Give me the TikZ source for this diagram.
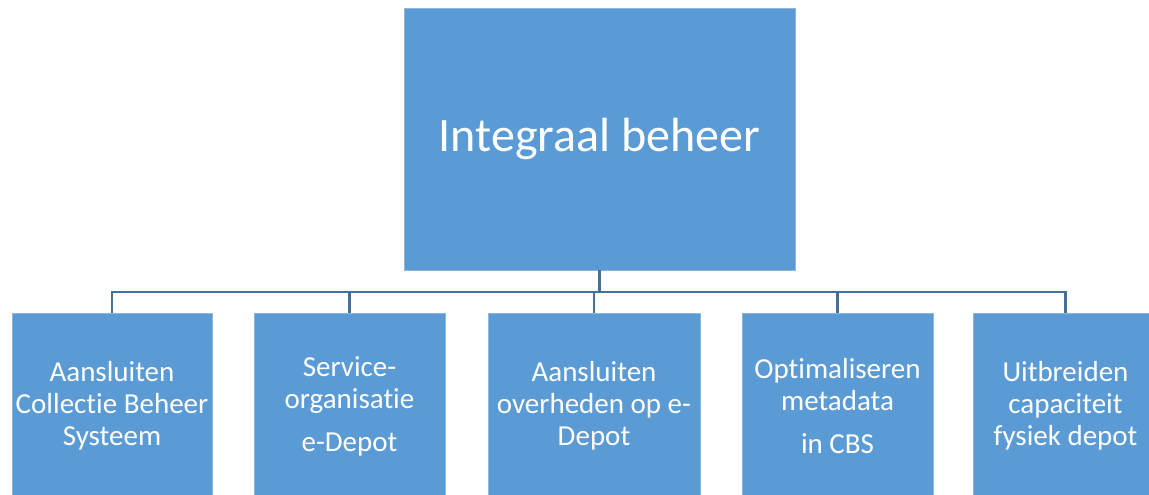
\documentclass[tikz,border=0pt]{standalone}
\usepackage{fontspec}
\setmainfont{Carlito}[Ligatures=NoCommon]
\usepackage{tikz}
\usetikzlibrary{positioning}

\definecolor{boxblue}{HTML}{5B9BD5}
\definecolor{boxedge}{HTML}{8DB6E0}
\definecolor{lineblue}{HTML}{41719C}

\begin{document}
\begin{tikzpicture}[x=1pt,y=-1pt,
    box/.style={rectangle,draw=boxedge,line width=0.8pt,fill=boxblue,text=white,
        align=center,inner sep=0pt,font=\fontsize{29}{32}\selectfont},
    conn/.style={draw=lineblue,line width=2.2pt}]
    \useasboundingbox (0,0) rectangle (1149,495);

    % Top
    \node[box,minimum width=391pt,minimum height=262pt,font=\fontsize{48}{58}\selectfont]
        (top) at (599.5,139) {Integraal beheer};

    % Projects
    \node[box,minimum width=200pt,minimum height=186pt] (cbs) at (112,406)
        {Aansluiten\\Collectie Beheer\\Systeem};
    \node[box,minimum width=191pt,minimum height=186pt] (service) at (349.5,406)
        {Service-\\organisatie\\[11pt]e-Depot};
    \node[box,minimum width=212pt,minimum height=186pt] (overheden) at (594,406)
        {Aansluiten\\overheden op e-\\Depot};
    \node[box,minimum width=191pt,minimum height=186pt] (metadata) at (837.5,406)
        {Optimaliseren\\metadata\\[11pt]in CBS};
    \node[box,minimum width=185pt,minimum height=186pt] (fysiek) at (1065.5,406)
        {Uitbreiden\\capaciteit\\fysiek depot};

    % Connections
    \coordinate (bus) at (599.5,292);
    \draw[conn] (top.south) -- (bus);
    \draw[conn] (cbs.north) |- (bus) -| (fysiek.north);
    \draw[conn] (service.north) -- (service.north |- bus);
    \draw[conn] (overheden.north) -- (overheden.north |- bus);
    \draw[conn] (metadata.north) -- (metadata.north |- bus);
\end{tikzpicture}
\end{document}
